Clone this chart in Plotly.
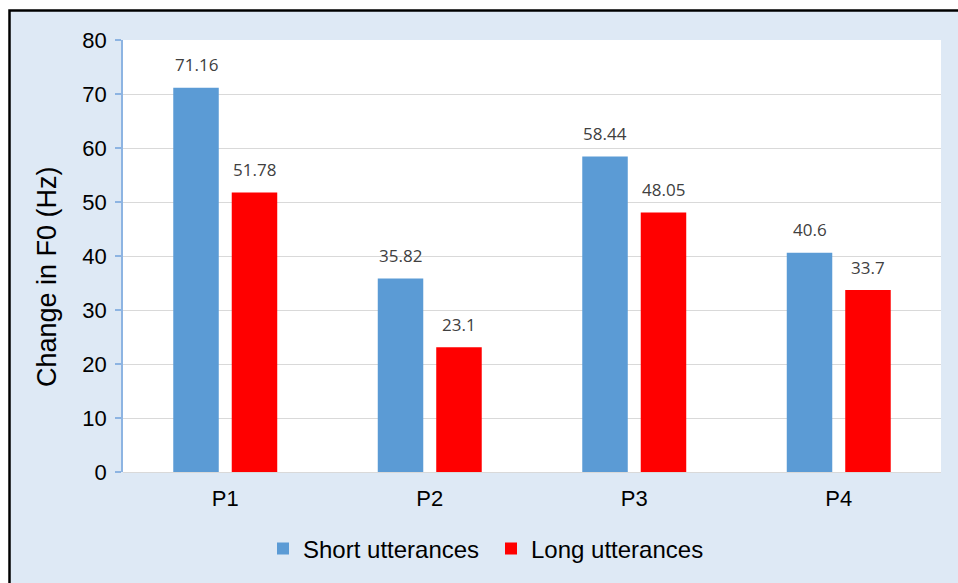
import plotly.graph_objects as go

categories = ["P1", "P2", "P3", "P4"]
short_vals = [71.16, 35.82, 58.44, 40.6]
long_vals = [51.78, 23.1, 48.05, 33.7]
series_names = ["Short utterances", "Long utterances"]
y_ticks = [0, 10, 20, 30, 40, 50, 60, 70, 80]
y_title = "Change in F0 (Hz)"

BLUE = "#5B9BD5"
RED = "#FF0000"
BG = "#DEE9F5"
FONT = "Arial, Liberation Sans, sans-serif"

fig = go.Figure()
fig.add_trace(go.Bar(x=categories, y=short_vals, name=series_names[0],
                     marker=dict(color=BLUE, line=dict(width=0))))
fig.add_trace(go.Bar(x=categories, y=long_vals, name=series_names[1],
                     marker=dict(color=RED, line=dict(width=0))))

L, R, T, B = 123, 17, 40, 111
W, H = 958, 583
pw, ph = W - L - R, H - T - B

def px_x(p):
    return (p - L) / pw

def px_y(p):
    return (H - B - p) / ph

annotations = []
for vals, shift in ((short_vals, -29), (long_vals, 29)):
    for c, v in zip(categories, vals):
        annotations.append(dict(x=c, y=v, xref="x", yref="y", text=str(v),
                                showarrow=False, xshift=shift, yshift=23,
                                yanchor="middle",
                                font=dict(family="Open Sans", size=17, color="#404040")))
annotations.append(dict(x=px_x(47), y=px_y(277), xref="paper", yref="paper",
                        text=y_title, textangle=-90, showarrow=False,
                        xanchor="center", yanchor="middle",
                        font=dict(family=FONT, size=27, color="black")))

shapes = [
    dict(type="rect", xref="paper", yref="paper", layer="below",
         x0=px_x(9.5), x1=px_x(975), y0=px_y(600), y1=px_y(10.5),
         fillcolor=BG, line=dict(color="black", width=2.5)),
    dict(type="rect", xref="paper", yref="paper", layer="below",
         x0=0, x1=1, y0=0, y1=1, fillcolor="white", line=dict(width=0)),
]

fig.update_layout(
    width=W, height=H,
    margin=dict(l=L, r=R, t=T, b=B, autoexpand=False),
    paper_bgcolor="white", plot_bgcolor="rgba(0,0,0,0)",
    barmode="group", bargap=0.428, bargroupgap=0.222,
    font=dict(family=FONT, color="black"),
    shapes=shapes, annotations=annotations,
    showlegend=True,
    legend=dict(orientation="h", x=px_x(491), xanchor="center",
                y=px_y(549), yanchor="middle",
                font=dict(family=FONT, size=24, color="black"),
                bgcolor="rgba(0,0,0,0)", itemwidth=30, traceorder="normal",
                entrywidth=183, entrywidthmode="pixels"),
    xaxis=dict(showgrid=False, showline=False, ticks="", zeroline=False,
               ticklabelstandoff=11,
               tickfont=dict(family=FONT, size=22, color="black")),
    yaxis=dict(range=[0, 80], tickvals=y_ticks, showgrid=True, gridcolor="#D9D9D9",
               gridwidth=1, zeroline=True, zerolinecolor="#D9D9D9", zerolinewidth=1,
               showline=True, linecolor="#8DB4E2", linewidth=1.5,
               ticks="outside", ticklen=6, tickcolor="#8DB4E2", tickwidth=1.5,
               ticklabelstandoff=4,
               tickfont=dict(family=FONT, size=22, color="black")),
)

fig.write_html("out.html")
